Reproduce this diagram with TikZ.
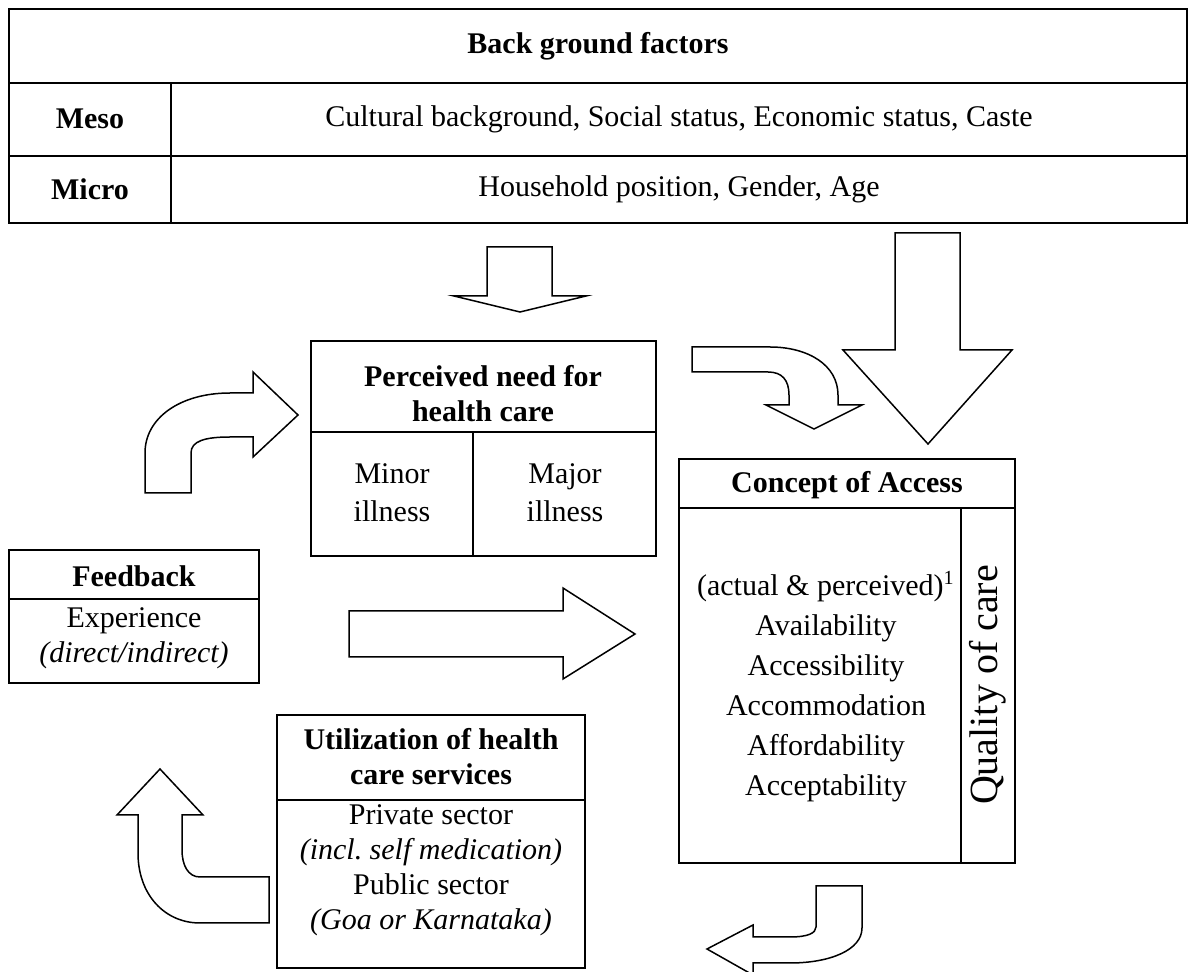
\documentclass[tikz,border=0pt]{standalone}
\usepackage{fontspec}
\setmainfont{Liberation Serif}
\frenchspacing
\begin{document}
\begin{tikzpicture}[x=0.4pt,y=-0.4pt,
  every node/.style={font=\fontsize{12}{14}\selectfont,align=center,inner sep=0pt},
  boxline/.style={line width=0.8pt},
  blockarrow/.style={line width=0.6pt,line join=miter}]
\useasboundingbox (0,0) rectangle (1196,972);
% background factors
\draw[boxline] (9,9) rectangle (1187,223);
\draw[boxline] (9,83) -- (1187,83);
\draw[boxline] (9,156) -- (1187,156);
\draw[boxline] (171,83) -- (171,223);
\node[font=\fontsize{12}{14}\selectfont\bfseries] (bgtitle) at (598,46) {Back ground factors};
\node[font=\fontsize{12}{14}\selectfont\bfseries] (meso) at (90,119) {Meso};
\node[font=\fontsize{12}{14}\selectfont\bfseries] (micro) at (90,189) {Micro};
\node (mesotext) at (679,119) {Cultural background, Social status, Economic status, Caste};
\node (microtext) at (679,189) {Household position, Gender, Age};
% perceived need
\draw[boxline] (311,341) rectangle (656,556);
\draw[boxline] (311,432) -- (656,432);
\draw[boxline] (473,432) -- (473,556);
\node[font=\fontsize{12}{14}\selectfont\bfseries] (need) at (483,394) {Perceived need for\\health care};
\node[font=\fontsize{12}{15.2}\selectfont] (minor) at (392,493) {Minor\\illness};
\node[font=\fontsize{12}{15.2}\selectfont] (major) at (565,493) {Major\\illness};
% concept of access
\draw[boxline] (679,459) rectangle (1015,863);
\draw[boxline] (679,508) -- (1015,508);
\draw[boxline] (961,508) -- (961,863);
\node[font=\fontsize{12}{14}\selectfont\bfseries] (access) at (847,485) {Concept of Access};
\node[font=\fontsize{12}{16}\selectfont] (dims) at (826,687) {(actual \& perceived)\textsuperscript{1}\\Availability\\Accessibility\\Accommodation\\Affordability\\Acceptability};
\node[font=\fontsize{16}{18}\selectfont,rotate=90] (quality) at (988,685) {Quality of care};
% feedback
\draw[boxline] (9,550) rectangle (259,683);
\draw[boxline] (9,599) -- (259,599);
\node[font=\fontsize{12}{14}\selectfont\bfseries] (feedback) at (134,576) {Feedback};
\node (experience) at (134,638) {Experience\\\textit{(direct/indirect)}};
% utilization
\draw[boxline] (277,715) rectangle (585,968);
\draw[boxline] (277,800) -- (585,800);
\node[font=\fontsize{12}{14}\selectfont\bfseries] (use) at (431,757) {Utilization of health\\care services};
\node (sectors) at (431,870) {Private sector\\\textit{(incl.\ self medication)}\\Public sector\\\textit{(Goa or Karnataka)}};
% block arrows
\draw[blockarrow] (487,247) -- (552,247) -- (552,296) -- (586,296) -- (520,312) -- (454,296) -- (487,296) -- cycle;
\draw[blockarrow] (895,233) -- (960,233) -- (960,350) -- (1012,350) -- (928,444) -- (843,350) -- (895,350) -- cycle;
\draw[blockarrow] (692,347) -- (770,347) .. controls (808,347) and (838,365) .. (838,395) -- (838,405) -- (862,405) -- (814,429) -- (766,405) -- (789,405) -- (789,395) .. controls (789,380) and (782,372) .. (768,372) -- (692,372) -- cycle;
\draw[blockarrow] (145,493) -- (145,453) .. controls (145,418) and (180,393) .. (230,393) -- (253,393) -- (253,372) -- (298,415) -- (253,457) -- (253,437) -- (230,437) .. controls (205,437) and (191,441) .. (191,453) -- (191,493) -- cycle;
\draw[blockarrow] (349,611) -- (563,611) -- (563,588) -- (635,634) -- (563,679) -- (563,657) -- (349,657) -- cycle;
\draw[blockarrow] (269,877) -- (200,877) .. controls (188,877) and (182,865) .. (182,850) -- (182,815) -- (203,815) -- (160,769) -- (117,815) -- (138,815) -- (138,853) .. controls (138,895) and (165,923) .. (200,923) -- (269,923) -- cycle;
\draw[blockarrow] (816,886) -- (862,886) -- (862,928) .. controls (862,950) and (830,963) .. (790,963) -- (753,963) -- (753,975) -- (707,949) -- (753,925) -- (753,937) -- (790,937) .. controls (808,937) and (816,933) .. (816,927) -- cycle;
\end{tikzpicture}
\end{document}
